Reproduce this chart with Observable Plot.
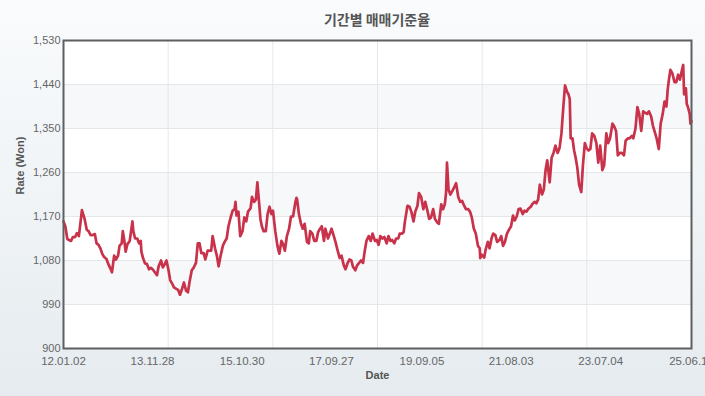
<!DOCTYPE html>
<html>
<head>
<meta charset="utf-8">
<script src="https://cdn.jsdelivr.net/npm/d3@7"></script>
<script src="https://cdn.jsdelivr.net/npm/@observablehq/plot@0.6"></script>
<style>
  html, body { margin: 0; padding: 0; overflow: hidden; }
  #wrap {
    position: relative; width: 705px; height: 396px; overflow: hidden;
    background: linear-gradient(180deg, #f9fbfc 0%, #eff3f6 55%, #e5ebef 100%);
    font-family: "Liberation Sans", Arial, sans-serif;
  }
  #title {
    position: absolute; left: 63px; width: 628px; top: 10px;
    text-align: center; font: bold 14px "Noto Sans CJK KR", sans-serif;
    line-height: 18px; color: #555;
  }
  #chart { position: absolute; left: 0; top: 0; }
</style>
</head>
<body>
<div id="wrap">
  <div id="chart"></div>
  <div id="title">기간별 매매기준율</div>
</div>
<script>
const title = "기간별 매매기준율";
const yLabel = "Rate (Won)";
const xLabel = "Date";
const yTicks = [900, 990, 1080, 1170, 1260, 1350, 1440, 1530];
const xTickDates = ["2012-01-02", "2013-11-28", "2015-10-30", "2017-09-27", "2019-09-05", "2021-08-03", "2023-07-04", "2025-06-13"];
const xTickLabels = ["12.01.02", "13.11.28", "15.10.30", "17.09.27", "19.09.05", "21.08.03", "23.07.04", "25.06.13"];

const dates = [
  "2012-01-02","2012-01-16","2012-02-01","2012-02-15","2012-03-01","2012-03-15","2012-04-02","2012-04-16","2012-05-01","2012-05-15","2012-05-25","2012-06-15","2012-07-02","2012-07-16","2012-08-01","2012-08-16","2012-09-03","2012-09-17","2012-10-02","2012-10-16","2012-11-01","2012-11-15","2012-12-03","2012-12-17",
  "2013-01-02","2013-01-15","2013-02-01","2013-02-15","2013-03-04","2013-03-15","2013-04-01","2013-04-10","2013-04-22","2013-05-02","2013-05-15","2013-06-03","2013-06-24","2013-07-01","2013-07-15","2013-08-01","2013-08-15","2013-08-28","2013-09-02","2013-09-16","2013-10-01","2013-10-15","2013-11-01","2013-11-15","2013-12-02","2013-12-16",
  "2014-01-02","2014-01-15","2014-02-03","2014-02-17","2014-03-03","2014-03-17","2014-04-01","2014-04-15","2014-05-02","2014-05-15","2014-06-02","2014-06-16","2014-07-01","2014-07-15","2014-08-01","2014-08-18","2014-09-01","2014-09-15","2014-10-01","2014-10-15","2014-11-03","2014-11-17","2014-12-01","2014-12-15",
  "2015-01-02","2015-01-15","2015-02-02","2015-02-16","2015-03-02","2015-03-13","2015-04-01","2015-04-15","2015-04-29","2015-05-15","2015-06-01","2015-06-15","2015-07-01","2015-07-15","2015-08-03","2015-08-17","2015-09-01","2015-09-08","2015-09-16","2015-10-01","2015-10-15","2015-11-02","2015-11-16","2015-12-01","2015-12-15",
  "2016-01-04","2016-01-15","2016-02-01","2016-02-15","2016-02-26","2016-03-10","2016-03-21","2016-04-01","2016-04-15","2016-05-02","2016-05-16","2016-05-31","2016-06-15","2016-06-27","2016-07-15","2016-08-01","2016-08-16","2016-09-01","2016-09-12","2016-09-28","2016-10-14","2016-10-31","2016-11-15","2016-12-01","2016-12-20","2016-12-28",
  "2017-01-02","2017-01-16","2017-02-01","2017-02-15","2017-03-02","2017-03-20","2017-04-03","2017-04-14","2017-05-01","2017-05-16","2017-06-01","2017-06-15","2017-06-30","2017-07-14","2017-07-31","2017-08-11","2017-08-31","2017-09-15","2017-09-28","2017-10-16","2017-11-01","2017-11-15","2017-12-01","2017-12-15",
  "2018-01-02","2018-01-15","2018-02-01","2018-02-15","2018-03-02","2018-03-15","2018-04-02","2018-04-16","2018-05-02","2018-05-16","2018-06-01","2018-06-15","2018-06-28","2018-07-16","2018-08-01","2018-08-15","2018-09-03","2018-09-17","2018-10-01","2018-10-15","2018-11-01","2018-11-15","2018-12-03","2018-12-17",
  "2019-01-02","2019-01-15","2019-02-01","2019-02-15","2019-03-04","2019-03-15","2019-04-01","2019-04-15","2019-04-25","2019-05-15","2019-05-31","2019-06-14","2019-07-01","2019-07-15","2019-08-01","2019-08-13","2019-08-30","2019-09-16","2019-10-01","2019-10-15","2019-11-01","2019-11-15","2019-12-02","2019-12-16",
  "2020-01-02","2020-01-15","2020-02-03","2020-02-17","2020-03-02","2020-03-12","2020-03-19","2020-03-31","2020-04-14","2020-04-29","2020-05-15","2020-05-29","2020-06-15","2020-06-30","2020-07-15","2020-07-31","2020-08-14","2020-08-31","2020-09-15","2020-09-29","2020-10-15","2020-10-30","2020-11-16","2020-11-30","2020-12-04","2020-12-15",
  "2021-01-04","2021-01-15","2021-02-01","2021-02-15","2021-03-02","2021-03-15","2021-04-01","2021-04-15","2021-05-03","2021-05-17","2021-05-31","2021-06-15","2021-07-01","2021-07-15","2021-08-02","2021-08-17","2021-08-31","2021-09-15","2021-09-30","2021-10-15","2021-11-01","2021-11-15","2021-12-01","2021-12-15",
  "2022-01-03","2022-01-17","2022-02-03","2022-02-15","2022-03-02","2022-03-15","2022-04-01","2022-04-15","2022-04-29","2022-05-12","2022-05-31","2022-06-15","2022-06-30","2022-07-15","2022-08-01","2022-08-16","2022-08-31","2022-09-15","2022-09-28","2022-10-14","2022-10-25","2022-11-04","2022-11-11","2022-11-25","2022-12-08","2022-12-20",
  "2023-01-02","2023-01-16","2023-02-02","2023-02-15","2023-03-02","2023-03-15","2023-03-31","2023-04-14","2023-04-28","2023-05-15","2023-05-31","2023-06-15","2023-06-30","2023-07-17","2023-07-31","2023-08-17","2023-08-31","2023-09-15","2023-10-04","2023-10-16","2023-11-01","2023-11-15","2023-12-01","2023-12-15",
  "2024-01-02","2024-01-15","2024-02-01","2024-02-15","2024-03-04","2024-03-15","2024-04-01","2024-04-16","2024-04-30","2024-05-16","2024-05-31","2024-06-14","2024-07-01","2024-07-15","2024-08-01","2024-08-16","2024-09-02","2024-09-13","2024-09-30","2024-10-15","2024-10-31","2024-11-14","2024-11-29","2024-12-09","2024-12-19","2024-12-30",
  "2025-01-15","2025-01-31","2025-02-14","2025-02-28","2025-03-14","2025-03-31","2025-04-09","2025-04-16","2025-04-30","2025-05-07","2025-05-15","2025-05-30","2025-06-05","2025-06-13"
];
const rates = [
  1160,1150,1124,1122,1120,1128,1128,1136,1130,1160,1183,1165,1143,1140,1132,1132,1134,1115,1112,1105,1093,1087,1083,1073,
  1064,1056,1090,1082,1090,1110,1115,1140,1120,1098,1113,1120,1160,1140,1125,1125,1115,1120,1098,1084,1074,1073,1062,1065,1061,1056,
  1050,1068,1080,1066,1072,1080,1062,1040,1032,1025,1022,1020,1010,1020,1035,1018,1015,1038,1060,1065,1075,1115,1115,1095,
  1095,1082,1100,1100,1100,1130,1105,1090,1068,1090,1110,1118,1125,1150,1170,1182,1185,1200,1172,1180,1130,1140,1168,1160,1180,
  1187,1210,1200,1205,1240,1200,1165,1150,1140,1140,1175,1190,1175,1182,1140,1110,1094,1120,1115,1100,1130,1145,1170,1170,1200,1208,
  1205,1175,1155,1145,1155,1118,1115,1140,1135,1120,1120,1138,1145,1150,1120,1145,1125,1135,1145,1130,1115,1100,1085,1090,
  1070,1062,1075,1082,1080,1067,1060,1070,1075,1080,1075,1100,1120,1130,1120,1135,1120,1122,1112,1130,1125,1128,1115,1130,
  1120,1122,1115,1125,1125,1135,1135,1138,1160,1192,1190,1180,1160,1180,1192,1218,1210,1185,1200,1185,1165,1168,1185,1165,
  1158,1155,1195,1185,1195,1220,1280,1225,1215,1222,1230,1238,1210,1200,1202,1192,1185,1185,1180,1168,1145,1135,1110,1105,1085,1092,
  1086,1102,1118,1105,1125,1135,1132,1118,1122,1130,1110,1118,1135,1142,1150,1172,1162,1170,1185,1186,1175,1182,1180,1186,
  1190,1196,1200,1197,1205,1235,1215,1225,1265,1285,1240,1290,1300,1315,1300,1310,1340,1395,1438,1425,1420,1410,1330,1330,1305,1290,
  1270,1235,1220,1275,1320,1310,1305,1308,1340,1335,1320,1280,1315,1265,1275,1340,1320,1330,1360,1355,1345,1295,1300,1300,
  1295,1325,1330,1330,1335,1330,1350,1394,1380,1345,1385,1382,1380,1385,1375,1355,1340,1330,1308,1360,1380,1405,1395,1430,1451,1470,
  1462,1445,1445,1460,1450,1470,1480,1420,1432,1400,1395,1380,1360,1365
];

const data = dates.map((d, i) => ({date: new Date(d), rate: rates[i]}));
const x0 = new Date(xTickDates[0]);
const x1 = new Date(xTickDates[xTickDates.length - 1]);
const xTicks = xTickDates.map(d => new Date(d));
const labelOf = new Map(xTicks.map((d, i) => [+d, xTickLabels[i]]));
const xGrid = d3.range(1, 6).map(k => new Date(+x0 + k * (x1 - x0) / 6));
const bands = d3.range(1, yTicks.length - 1, 2).map(i => ({lo: yTicks[i], hi: yTicks[i + 1]}));

const chart = Plot.plot({
  width: 705,
  height: 396,
  marginLeft: 63,
  marginRight: 14,
  marginTop: 40,
  marginBottom: 48,
  style: {background: "transparent", fontFamily: "'Liberation Sans', Arial, sans-serif", fontSize: "11px", color: "#666"},
  x: {type: "utc", domain: [x0, x1]},
  y: {domain: [900, 1530]},
  marks: [
    Plot.frame({fill: "white"}),
    Plot.rect(bands, {y1: "lo", y2: "hi", fill: "#f6f8fa"}),
    Plot.ruleY(yTicks, {stroke: "#e4e7ea", strokeWidth: 1}),
    Plot.ruleX(xGrid, {stroke: "#e4e7ea", strokeWidth: 1}),
    Plot.line(data, {x: "date", y: "rate", stroke: "#c8324a", strokeWidth: 2.7, strokeLinejoin: "round"}),
    Plot.frame({stroke: "#5f5f5f", strokeWidth: 2}),
    Plot.axisY(yTicks, {tickSize: 0, tickPadding: 3, tickFormat: d3.format(","), label: null, fill: "#666", fontSize: 11}),
    Plot.axisX(xTicks, {tickSize: 0, tickPadding: 8, tickFormat: d => labelOf.get(+d), label: null, fill: "#666", fontSize: 11.5}),
    Plot.text([yLabel], {text: d => d, frameAnchor: "left", dx: -43, rotate: -90, fontWeight: "bold", fill: "#555", fontSize: 11}),
    Plot.text([xLabel], {text: d => d, frameAnchor: "bottom", dy: 30, fontWeight: "bold", fill: "#555", fontSize: 11})
  ]
});
document.getElementById("chart").appendChild(chart);
</script>
</body>
</html>
